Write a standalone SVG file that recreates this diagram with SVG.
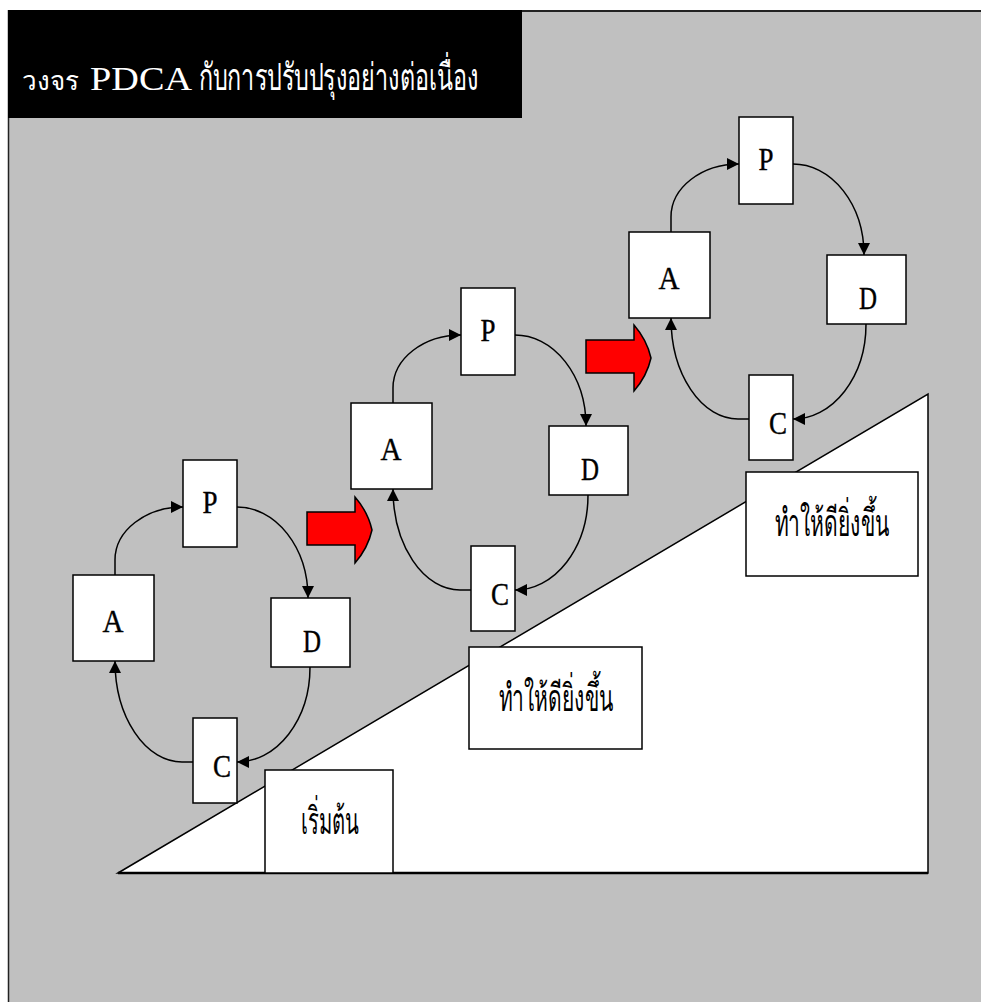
<svg xmlns="http://www.w3.org/2000/svg" width="981" height="1002" viewBox="0 0 981 1002">
<style>
.box{fill:#fff;stroke:#000;stroke-width:1.5}
.lbl{font-family:"Liberation Serif",serif;font-size:32px;text-anchor:middle;fill:#000;stroke:#000;stroke-width:0.4}
.conn{fill:none;stroke:#000;stroke-width:1.5}
.thai{font-family:"Noto Sans","DejaVu Sans",sans-serif;font-size:38px;text-anchor:middle;fill:#000}
.red{fill:#f00;stroke:#000;stroke-width:1.5}
.ttl{font-family:"Noto Sans","DejaVu Sans",sans-serif;font-size:37px;fill:#fff}
.ttlS{font-family:"Noto Sans","DejaVu Sans",sans-serif;font-size:26px;fill:#fff}
.ttlL{font-family:"Liberation Serif",serif;font-size:34px;fill:#fff}
</style>
<defs>
<marker id="ah" markerUnits="userSpaceOnUse" markerWidth="12" markerHeight="12" refX="12" refY="6" orient="auto">
<path d="M0,0 L12,6 L0,12 z" fill="#000"/>
</marker>
</defs>
<rect x="0" y="0" width="981" height="1002" fill="#fff"/>
<rect x="8" y="10" width="973" height="992" fill="#c0c0c0"/>
<line x1="8" y1="11" x2="981" y2="11" stroke="#222" stroke-width="2"/>
<line x1="8.5" y1="10" x2="8.5" y2="1002" stroke="#222" stroke-width="1.5"/>
<g id="title">
<rect x="8" y="10" width="514" height="108" fill="#000"/>
<text class="ttlS" x="22" y="90">วงจร</text>
<text class="ttlL" x="90" y="90" textLength="102" lengthAdjust="spacingAndGlyphs">PDCA</text>
<text class="ttl" x="199" y="90" textLength="279" lengthAdjust="spacingAndGlyphs">กับการปรับปรุงอย่างต่อเนื่อง</text>
</g>
<g id="slope">
<polygon points="118,873 928,394 928,873" fill="#fff" stroke="#000" stroke-width="1.5"/>
<line x1="118" y1="873" x2="928" y2="873" stroke="#000" stroke-width="2.5"/>
</g>
<g id="stage1">
<rect class="box" x="265" y="770" width="128" height="103"/>
<text class="thai" x="330" y="834" textLength="58" lengthAdjust="spacingAndGlyphs">เริ่มต้น</text>
</g>
<g id="stage2">
<rect class="box" x="469" y="647" width="173" height="102"/>
<text class="thai" x="556" y="711" textLength="115" lengthAdjust="spacingAndGlyphs">ทำให้ดียิ่งขึ้น</text>
</g>
<g id="stage3">
<rect class="box" x="746" y="472" width="172" height="104"/>
<text class="thai" x="832" y="536" textLength="115" lengthAdjust="spacingAndGlyphs">ทำให้ดียิ่งขึ้น</text>
</g>
<g id="connectors">
<path class="conn" marker-end="url(#ah)" d="M115,575 L115,560 A68,53 0 0 1 183,507"/>
<path class="conn" marker-end="url(#ah)" d="M237,507 A71,91 0 0 1 308,598"/>
<path class="conn" marker-end="url(#ah)" d="M310,667 A73,95 0 0 1 237,762"/>
<path class="conn" marker-end="url(#ah)" d="M193,762 L182,762 A67,101 0 0 1 115,661"/>
<path class="conn" marker-end="url(#ah)" d="M393,403 L393,388 A68,53 0 0 1 461,335"/>
<path class="conn" marker-end="url(#ah)" d="M515,335 A71,91 0 0 1 586,426"/>
<path class="conn" marker-end="url(#ah)" d="M588,495 A73,95 0 0 1 515,590"/>
<path class="conn" marker-end="url(#ah)" d="M471,590 L460,590 A67,101 0 0 1 393,489"/>
<path class="conn" marker-end="url(#ah)" d="M671,232 L671,217 A68,53 0 0 1 739,164"/>
<path class="conn" marker-end="url(#ah)" d="M793,164 A71,91 0 0 1 864,255"/>
<path class="conn" marker-end="url(#ah)" d="M866,324 A73,95 0 0 1 793,419"/>
<path class="conn" marker-end="url(#ah)" d="M749,419 L738,419 A67,101 0 0 1 671,318"/>
</g>
<g id="p1"><rect class="box" x="183" y="460" width="54" height="87"/><text class="lbl" x="210" y="513" textLength="15" lengthAdjust="spacingAndGlyphs">P</text></g>
<g id="a1"><rect class="box" x="73" y="575" width="81" height="86"/><text class="lbl" x="113" y="632" textLength="21" lengthAdjust="spacingAndGlyphs">A</text></g>
<g id="d1"><rect class="box" x="271" y="598" width="79" height="69"/><text class="lbl" x="312" y="652" textLength="18" lengthAdjust="spacingAndGlyphs">D</text></g>
<g id="c1"><rect class="box" x="193" y="718" width="44" height="85"/><text class="lbl" x="222" y="777" textLength="18" lengthAdjust="spacingAndGlyphs">C</text></g>
<g id="p2"><rect class="box" x="461" y="288" width="54" height="87"/><text class="lbl" x="488" y="341" textLength="15" lengthAdjust="spacingAndGlyphs">P</text></g>
<g id="a2"><rect class="box" x="351" y="403" width="81" height="86"/><text class="lbl" x="391" y="460" textLength="21" lengthAdjust="spacingAndGlyphs">A</text></g>
<g id="d2"><rect class="box" x="549" y="426" width="79" height="69"/><text class="lbl" x="590" y="480" textLength="18" lengthAdjust="spacingAndGlyphs">D</text></g>
<g id="c2"><rect class="box" x="471" y="546" width="44" height="85"/><text class="lbl" x="500" y="605" textLength="18" lengthAdjust="spacingAndGlyphs">C</text></g>
<g id="p3"><rect class="box" x="739" y="117" width="54" height="87"/><text class="lbl" x="766" y="170" textLength="15" lengthAdjust="spacingAndGlyphs">P</text></g>
<g id="a3"><rect class="box" x="629" y="232" width="81" height="86"/><text class="lbl" x="669" y="289" textLength="21" lengthAdjust="spacingAndGlyphs">A</text></g>
<g id="d3"><rect class="box" x="827" y="255" width="79" height="69"/><text class="lbl" x="868" y="309" textLength="18" lengthAdjust="spacingAndGlyphs">D</text></g>
<g id="c3"><rect class="box" x="749" y="375" width="44" height="85"/><text class="lbl" x="778" y="434" textLength="18" lengthAdjust="spacingAndGlyphs">C</text></g>
<g id="arrow1"><path class="red" d="M307,512 H355 V497 Q368,512 372,530 Q368,548 355,563 V545 H307 Z"/></g>
<g id="arrow2"><path class="red" d="M586,340 H634 V325 Q647,340 651,358 Q647,376 634,391 V373 H586 Z"/></g>
</svg>
